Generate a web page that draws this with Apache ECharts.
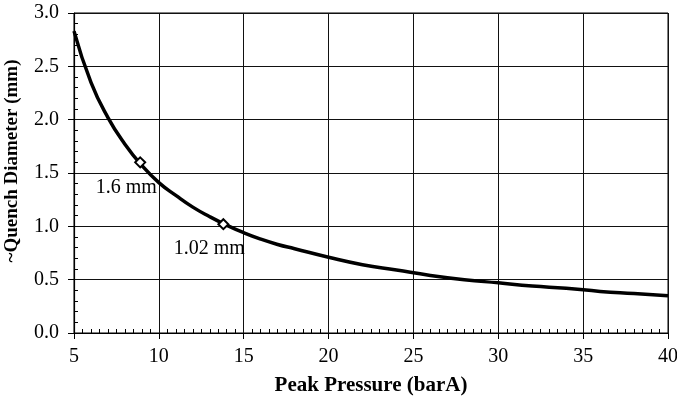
<!DOCTYPE html>
<html>
<head>
<meta charset="utf-8">
<script src="https://cdn.jsdelivr.net/npm/echarts@6/dist/echarts.min.js"></script>
<style>
  html, body { margin: 0; padding: 0; background: #fff; }
  #chart { width: 677px; height: 399px; }
</style>
</head>
<body>
<div id="chart"></div>
<script>
// Curve: peak pressure (barA) vs quench diameter (mm)
const pressure = [5, 6, 7, 8, 9, 10, 11, 12, 13, 14, 15, 16, 17, 18, 20, 22, 24, 26, 28, 30, 32, 34, 36, 38, 40];
const diameter = [2.83, 2.35, 2.02, 1.77, 1.57, 1.41, 1.29, 1.18, 1.09, 1.01, 0.94, 0.88, 0.83, 0.79, 0.71, 0.64, 0.59, 0.54, 0.50, 0.47, 0.44, 0.42, 0.39, 0.37, 0.35];

// Marked points
const markX = [8.9, 13.8];
const markY = [1.6, 1.02];
const markLabels = ['1.6 mm', '1.02 mm'];

const FONT = 'Liberation Serif';
const chart = echarts.init(document.getElementById('chart'));

const baseAxis = {
  type: 'value',
  nameMoveOverlap: false,
  axisLine: { show: true, lineStyle: { color: '#000', width: 1.2 } },
  axisTick: { show: true, length: 6, lineStyle: { color: '#000' } },
  splitLine: { show: true, lineStyle: { color: '#111', width: 1 } },
  axisLabel: { color: '#000', fontFamily: FONT, fontSize: 20 },
};

// overlay axes that only draw the inner minor ticks
const minorAxis = {
  type: 'value',
  axisLine: { show: false },
  axisTick: { show: false, inside: true },
  splitLine: { show: false },
  axisLabel: { show: false },
};

const option = {
  animation: false,
  backgroundColor: '#fff',
  grid: {
    left: 74, right: 9, top: 13, bottom: 66,
    outerBoundsMode: 'none',
    show: true, borderColor: '#000', borderWidth: 1,
  },
  xAxis: [
    Object.assign({}, baseAxis, {
      min: 5, max: 40, interval: 5,
      name: 'Peak Pressure (barA)',
      nameLocation: 'middle',
      nameGap: 42,
      nameTextStyle: { color: '#000', fontFamily: FONT, fontSize: 21, fontWeight: 'bold' },
      axisLabel: Object.assign({}, baseAxis.axisLabel, { margin: 14 }),
    }),
    Object.assign({}, minorAxis, {
      min: 5, max: 40, interval: 5, position: 'bottom',
      minorTick: { show: true, splitNumber: 10, length: 4, lineStyle: { color: '#000' } },
    }),
  ],
  yAxis: [
    Object.assign({}, baseAxis, {
      min: 0, max: 3, interval: 0.5,
      name: '~Quench Diameter (mm)',
      nameLocation: 'middle',
      nameGap: 52,
      nameTextStyle: { color: '#000', fontFamily: FONT, fontSize: 19, fontWeight: 'bold', padding: [0, 0, 0, 24] },
      axisLabel: Object.assign({}, baseAxis.axisLabel, {
        margin: 15,
        formatter: v => v.toFixed(1),
      }),
    }),
    Object.assign({}, minorAxis, {
      min: 0, max: 3, interval: 0.5, position: 'left',
      minorTick: { show: true, splitNumber: 5, length: 4, lineStyle: { color: '#000' } },
    }),
  ],
  series: [
    {
      type: 'line',
      smooth: true,
      showSymbol: false,
      data: pressure.map((p, i) => [p, diameter[i]]),
      lineStyle: { color: '#000', width: 3.5 },
      z: 3,
    },
    {
      type: 'scatter',
      symbol: 'diamond',
      symbolSize: 10,
      data: markX.map((x, i) => ({ value: [x, markY[i]], name: markLabels[i] })),
      itemStyle: { color: '#fff', borderColor: '#000', borderWidth: 2, opacity: 1 },
      label: {
        show: true,
        position: 'bottom',
        offset: [-14, 4],
        formatter: p => p.name,
        color: '#000',
        fontFamily: FONT,
        fontSize: 20,
      },
      z: 5,
    },
  ],
};

chart.setOption(option);
</script>
</body>
</html>
